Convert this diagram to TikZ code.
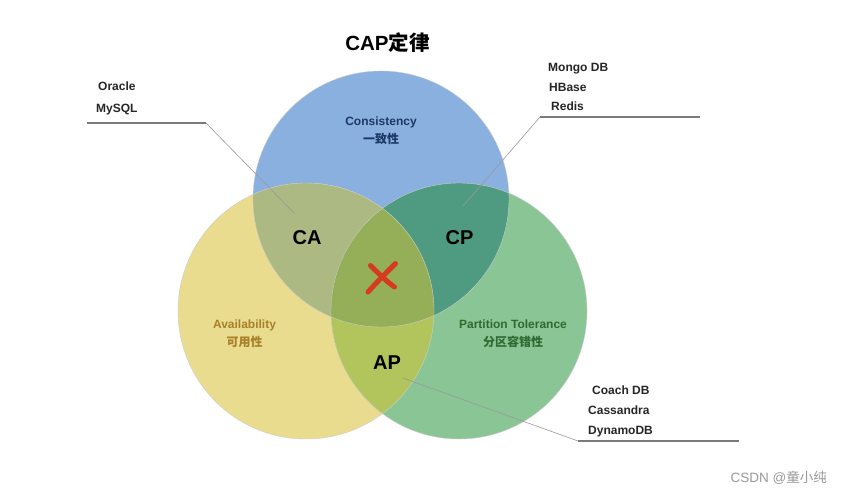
\documentclass[tikz,border=0pt]{standalone}
\usepackage{fontspec}
\setmainfont{Liberation Sans}
\newfontfamily\cjk{Noto Sans CJK SC}
\definecolor{cblue}{HTML}{8AB0E0}
\definecolor{cyellow}{HTML}{EADC8E}
\definecolor{cgreen}{HTML}{8AC595}
\definecolor{cCA}{HTML}{ACB983}
\definecolor{cCP}{HTML}{4F9B82}
\definecolor{cAP}{HTML}{B2C55D}
\definecolor{cALL}{HTML}{94AF58}
\definecolor{tblue}{HTML}{1C3966}
\definecolor{tgold}{HTML}{A8802A}
\definecolor{tgreen}{HTML}{2F6B31}
\definecolor{xred}{HTML}{D63A1F}
\definecolor{lgray}{HTML}{7A7A7A}
\begin{document}
\begin{tikzpicture}[x=1pt,y=-1pt,
  dblabel/.style={font=\fontsize{12}{14}\selectfont\bfseries, text=black!85, inner sep=0pt, anchor=base west},
  pair/.style={font=\fontsize{20}{24}\selectfont\bfseries, text=black, inner sep=0pt, anchor=base},
  setname/.style={font=\fontsize{12}{14}\selectfont\bfseries, inner sep=0pt, anchor=base},
  setcn/.style={font=\fontsize{12}{14}\selectfont\cjk\bfseries, inner sep=0pt, anchor=center},
  shelf/.style={draw=lgray, line width=2pt},
  leader/.style={draw=gray!80, line width=0.6pt},
  xstroke/.style={draw=xred, line width=5pt, line cap=round}
]
\useasboundingbox (0,0) rectangle (842,494);
\fill[white] (0,0) rectangle (842,494);

% circles
\coordinate (cC) at (381,199);
\coordinate (cA) at (306,311);
\coordinate (cP) at (459,311);
\def\R{128}
\fill[cblue] (cC) circle[radius=\R];
\fill[cyellow] (cA) circle[radius=\R];
\fill[cgreen] (cP) circle[radius=\R];
\begin{scope}
  \clip (cC) circle[radius=\R];
  \fill[cCA] (cA) circle[radius=\R];
  \fill[cCP] (cP) circle[radius=\R];
\end{scope}
\begin{scope}
  \clip (cA) circle[radius=\R];
  \fill[cAP] (cP) circle[radius=\R];
\end{scope}
\begin{scope}
  \clip (cC) circle[radius=\R];
  \clip (cA) circle[radius=\R];
  \fill[cALL] (cP) circle[radius=\R];
\end{scope}
\foreach \c in {cC,cA,cP} \draw[black!20, line width=0.4pt] (\c) circle[radius=\R];

% title
\node[inner sep=0pt, anchor=base, font=\fontsize{20.5}{24}\selectfont\bfseries] (title) at (387.5,51) {CAP{\cjk\bfseries 定律}};

% set labels
\node[setname, text=tblue] (cons) at (381,126) {Consistency};
\node[setcn, text=tblue] (conscn) at (381,139) {一致性};
\node[setname, text=tgold] (avail) at (244.5,328.5) {Availability};
\node[setcn, text=tgold] (availcn) at (244.5,342) {可用性};
\node[setname, text=tgreen] (part) at (513,328.5) {Partition Tolerance};
\node[setcn, text=tgreen] (partcn) at (513,342) {分区容错性};

% pair labels
\node[pair] (CA) at (307,244.2) {CA};
\node[pair] (CP) at (459.5,244.2) {CP};
\node[pair] (AP) at (387,369.2) {AP};

% red cross
\coordinate (x1a) at (395.5,263.5);
\coordinate (x1b) at (368,292);
\coordinate (x2a) at (370.5,265.5);
\coordinate (x2b) at (394.5,287);
\draw[xstroke] (x1a) .. controls (384,275) and (376,283) .. (x1b);
\draw[xstroke] (x2a) .. controls (378,273) and (386,281) .. (x2b);

% database labels
\node[dblabel] (oracle) at (98,90.5) {Oracle};
\node[dblabel] (mysql) at (96,113) {MySQL};
\node[dblabel] (mongo) at (548,71.5) {Mongo DB};
\node[dblabel] (hbase) at (549,92) {HBase};
\node[dblabel] (redis) at (551,111) {Redis};
\node[dblabel] (couch) at (592,394.5) {Coach DB};
\node[dblabel] (cass) at (588,414.5) {Cassandra};
\node[dblabel] (dynamo) at (588,434.5) {DynamoDB};

% leader lines
\coordinate (caL) at (87,123);
\coordinate (caK) at (206,123);
\coordinate (caE) at (294,213);
\draw[shelf] (caL) -- (caK);
\draw[leader] (caK) -- (caE);

\coordinate (cpR) at (700,117);
\coordinate (cpK) at (540,117);
\coordinate (cpE) at (463,206);
\draw[shelf] (cpK) -- (cpR);
\draw[leader] (cpK) -- (cpE);

\coordinate (apR) at (739,441);
\coordinate (apK) at (578,441);
\coordinate (apE) at (403,378);
\draw[shelf] (apK) -- (apR);
\draw[leader] (apK) -- (apE);

% watermark
\node[inner sep=0pt, anchor=east, text=black!40, font=\fontsize{13.5}{16}\selectfont] (wm) at (827,478) {CSDN @{\cjk 童小纯}};
\end{tikzpicture}
\end{document}
